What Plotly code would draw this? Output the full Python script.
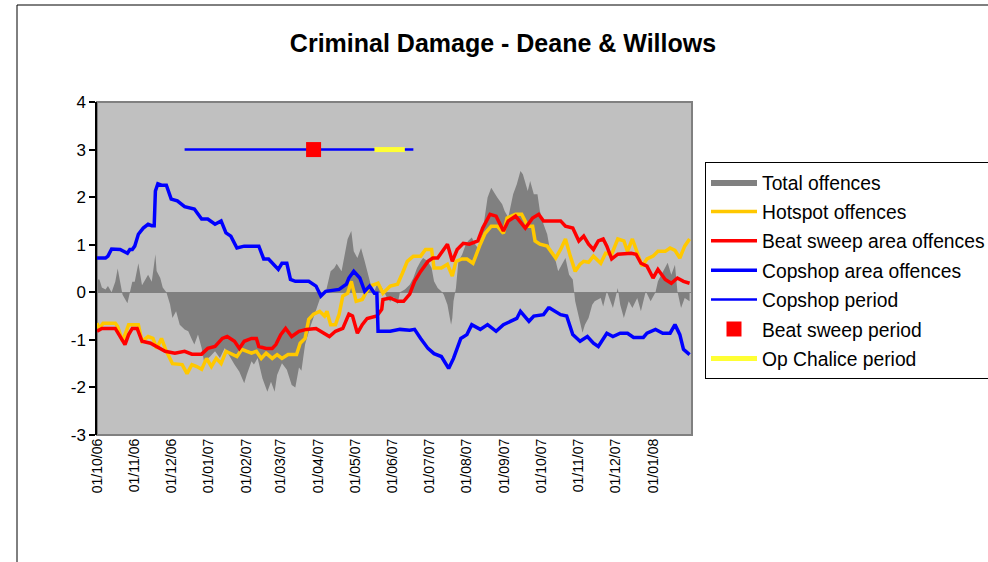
import plotly.graph_objects as go

FONT = "Liberation Sans, Arial, sans-serif"

# ---------------- data ----------------
total_dates = ["2006-10-01","2006-10-03","2006-10-05","2006-10-08","2006-10-10","2006-10-13","2006-10-16","2006-10-18",
    "2006-10-20","2006-10-22","2006-10-26","2006-10-28","2006-10-30","2006-11-01","2006-11-04","2006-11-07","2006-11-10",
    "2006-11-12","2006-11-15","2006-11-18","2006-11-19","2006-11-22","2006-11-24","2006-11-27","2006-11-30","2006-12-02",
    "2006-12-05","2006-12-08","2006-12-12","2006-12-15","2006-12-18","2006-12-20","2006-12-23","2006-12-26","2006-12-28",
    "2007-01-02","2007-01-06","2007-01-10","2007-01-14","2007-01-18","2007-01-22","2007-01-26","2007-01-30","2007-02-01",
    "2007-02-05","2007-02-07","2007-02-10","2007-02-14","2007-02-18","2007-02-21","2007-02-24","2007-02-26","2007-03-02",
    "2007-03-06","2007-03-10","2007-03-13","2007-03-16","2007-03-18","2007-03-21","2007-03-25","2007-03-30","2007-04-03",
    "2007-04-07","2007-04-11","2007-04-14","2007-04-16","2007-04-20","2007-04-22","2007-04-25","2007-04-28","2007-04-30",
    "2007-05-03","2007-05-06","2007-05-09","2007-05-11","2007-05-14","2007-05-17","2007-05-20","2007-05-24","2007-05-27",
    "2007-05-30","2007-06-02","2007-06-05","2007-06-07","2007-06-11","2007-06-15","2007-06-18","2007-06-21","2007-06-24",
    "2007-06-26","2007-06-30","2007-07-03","2007-07-05","2007-07-08","2007-07-11","2007-07-13","2007-07-16","2007-07-19",
    "2007-07-20","2007-07-21","2007-07-23","2007-07-25","2007-07-28","2007-07-31","2007-08-02","2007-08-05","2007-08-08",
    "2007-08-10","2007-08-14","2007-08-18","2007-08-21","2007-08-24","2007-08-26","2007-08-30","2007-09-01","2007-09-04",
    "2007-09-08","2007-09-11","2007-09-14","2007-09-16","2007-09-20","2007-09-22","2007-09-25","2007-09-28","2007-09-30",
    "2007-10-03","2007-10-06","2007-10-08","2007-10-13","2007-10-15","2007-10-19","2007-10-21","2007-10-24","2007-10-27",
    "2007-10-29","2007-11-01","2007-11-04","2007-11-06","2007-11-09","2007-11-12","2007-11-14","2007-11-19","2007-11-21",
    "2007-11-24","2007-11-27","2007-11-29","2007-12-03","2007-12-05","2007-12-08","2007-12-12","2007-12-15","2007-12-19",
    "2007-12-22","2007-12-26","2007-12-30","2008-01-03","2008-01-05","2008-01-11","2008-01-13","2008-01-16","2008-01-19",
    "2008-01-21","2008-01-24","2008-01-27","2008-01-31"]
total_values = [0.27,0.27,0.10,0.06,0.13,0.0,0.22,0.50,
    0.22,-0.05,-0.23,0.0,0.22,0.22,0.61,0.15,0.30,
    0.37,0.22,0.80,0.45,0.30,0.10,0.0,-0.25,-0.54,
    -0.40,-0.68,-0.78,-0.82,-0.99,-1.10,-0.89,-1.17,-1.46,
    -1.35,-1.24,-1.38,-1.17,-1.35,-1.52,-1.67,-1.91,-1.74,
    -1.45,-1.52,-1.38,-1.81,-2.09,-1.88,-2.09,-1.74,-1.49,
    -1.63,-1.95,-2.00,-1.58,-1.65,-1.10,-0.75,-0.40,-0.08,
    0.0,0.44,0.51,0.60,0.44,0.70,1.12,1.29,0.86,
    0.72,0.93,0.65,0.44,0.16,0.02,0.23,0.06,-0.10,
    -0.20,-0.10,-0.25,0.0,0.06,0.16,0.30,0.51,0.65,
    0.72,0.65,0.51,0.23,0.09,0.02,-0.05,-0.26,-0.68,
    -0.54,-0.19,0.09,0.65,0.79,1.00,1.08,1.15,1.00,
    0.93,1.29,1.99,2.20,2.06,1.99,1.85,1.71,1.57,
    2.06,2.27,2.55,2.48,2.13,2.34,2.06,2.06,1.71,
    1.43,1.22,0.93,0.65,0.44,0.65,0.72,0.37,0.27,
    -0.19,-0.54,-0.85,-0.68,-0.54,-0.26,-0.19,-0.12,-0.30,
    0.02,-0.19,-0.33,0.09,-0.26,-0.54,-0.19,-0.33,-0.12,
    -0.40,0.02,-0.19,0.0,0.23,0.51,0.62,0.37,0.58,
    0.02,-0.33,-0.12,-0.19]

hot_dates = ["2006-10-01","2006-10-03","2006-10-06","2006-10-16","2006-10-18","2006-10-22","2006-10-27","2006-11-04",
    "2006-11-07","2006-11-12","2006-11-16","2006-11-19","2006-11-23","2006-11-27","2006-12-02","2006-12-10","2006-12-14",
    "2006-12-18","2006-12-22","2006-12-26","2006-12-30","2007-01-03","2007-01-07","2007-01-11","2007-01-15","2007-01-19",
    "2007-01-24","2007-01-28","2007-02-05","2007-02-09","2007-02-13","2007-02-17","2007-02-22","2007-02-26","2007-03-02",
    "2007-03-07","2007-03-14","2007-03-17","2007-03-21","2007-03-24","2007-03-28","2007-04-02","2007-04-06","2007-04-08",
    "2007-04-11","2007-04-15","2007-04-18","2007-04-21","2007-04-25","2007-04-28","2007-05-02","2007-05-07","2007-05-13",
    "2007-05-20","2007-05-24","2007-05-30","2007-06-05","2007-06-09","2007-06-13","2007-06-18","2007-06-24","2007-06-28",
    "2007-07-03","2007-07-05","2007-07-11","2007-07-16","2007-07-20","2007-07-23","2007-07-28","2007-08-01","2007-08-06",
    "2007-08-12","2007-08-16","2007-08-21","2007-08-26","2007-08-31","2007-09-03","2007-09-10","2007-09-15","2007-09-20",
    "2007-09-24","2007-09-26","2007-09-30","2007-10-06","2007-10-08","2007-10-13","2007-10-17","2007-10-21","2007-10-25",
    "2007-10-29","2007-11-02","2007-11-05","2007-11-09","2007-11-13","2007-11-19","2007-11-23","2007-11-28","2007-12-03",
    "2007-12-08","2007-12-11","2007-12-15","2007-12-19","2007-12-23","2007-12-27","2008-01-01","2008-01-05","2008-01-11",
    "2008-01-15","2008-01-19","2008-01-23","2008-01-27","2008-01-31"]
hot_values = [-0.65,-0.76,-0.65,-0.65,-0.72,-1.03,-0.68,-0.68,
    -1.03,-0.93,-0.97,-1.18,-0.97,-1.24,-1.50,-1.52,-1.71,
    -1.52,-1.56,-1.62,-1.39,-1.56,-1.39,-1.50,-1.24,-1.28,
    -1.35,-1.20,-1.28,-1.24,-1.39,-1.28,-1.39,-1.31,-1.39,
    -1.31,-1.31,-1.07,-0.97,-0.57,-0.46,-0.40,-0.50,-0.40,
    -0.68,-0.68,-0.46,-0.08,-0.02,0.23,-0.19,-0.15,0.13,
    0.19,-0.02,0.13,0.17,0.40,0.65,0.76,0.76,0.90,
    0.90,0.51,0.51,0.59,0.34,0.65,0.70,0.70,0.61,
    1.01,1.24,1.39,1.39,1.24,1.56,1.64,1.64,1.39,
    1.39,1.08,1.01,0.97,0.90,0.72,0.90,1.12,0.76,
    0.44,0.59,0.65,0.63,0.76,0.61,0.82,0.80,1.12,
    1.08,0.86,1.12,0.82,0.55,0.70,0.76,0.86,0.86,
    0.93,0.88,0.72,0.97,1.12]

beat_dates = ["2006-10-01","2006-10-05","2006-10-16","2006-10-20","2006-10-24","2006-10-27","2006-10-30","2006-11-03",
    "2006-11-07","2006-11-14","2006-11-19","2006-11-26","2006-12-04","2006-12-12","2006-12-18","2006-12-26","2006-12-31",
    "2007-01-06","2007-01-12","2007-01-16","2007-01-22","2007-01-26","2007-01-30","2007-02-05","2007-02-09","2007-02-11",
    "2007-02-17","2007-02-22","2007-02-25","2007-03-01","2007-03-05","2007-03-10","2007-03-16","2007-03-22","2007-03-30",
    "2007-04-03","2007-04-10","2007-04-15","2007-04-21","2007-04-26","2007-04-29","2007-05-03","2007-05-07","2007-05-11",
    "2007-05-19","2007-05-23","2007-05-24","2007-05-30","2007-06-05","2007-06-10","2007-06-15","2007-06-19","2007-06-24",
    "2007-06-30","2007-07-04","2007-07-08","2007-07-12","2007-07-16","2007-07-20","2007-07-24","2007-07-29","2007-08-03",
    "2007-08-10","2007-08-14","2007-08-20","2007-08-25","2007-08-31","2007-09-04","2007-09-10","2007-09-14","2007-09-18",
    "2007-09-24","2007-09-29","2007-10-03","2007-10-17","2007-10-21","2007-10-27","2007-11-01","2007-11-05","2007-11-09",
    "2007-11-13","2007-11-17","2007-11-21","2007-11-24","2007-11-28","2007-12-03","2007-12-14","2007-12-18","2007-12-22",
    "2007-12-27","2008-01-01","2008-01-05","2008-01-11","2008-01-16","2008-01-21","2008-01-26","2008-01-31"]
beat_values = [-0.82,-0.76,-0.76,-0.93,-1.10,-0.89,-0.76,-0.76,
    -1.03,-1.07,-1.14,-1.24,-1.28,-1.24,-1.30,-1.30,-1.18,
    -1.14,-0.97,-0.93,-1.03,-1.18,-1.03,-0.97,-0.97,-1.14,
    -1.18,-1.18,-1.10,-0.89,-0.76,-0.93,-0.82,-0.78,-0.76,
    -0.82,-0.93,-0.82,-0.76,-0.46,-0.50,-0.86,-0.68,-0.55,
    -0.50,-0.36,-0.15,-0.12,-0.19,-0.19,-0.04,0.23,0.44,
    0.65,0.72,0.72,0.86,1.01,0.65,0.90,1.03,1.01,
    1.08,1.35,1.64,1.60,1.29,1.50,1.60,1.46,1.35,
    1.56,1.64,1.50,1.50,1.39,1.35,1.08,1.18,1.01,
    0.90,1.08,1.12,0.97,0.70,0.80,0.82,0.80,0.61,
    0.55,0.30,0.48,0.27,0.19,0.30,0.23,0.19]

cop_dates = ["2006-10-01","2006-10-08","2006-10-10","2006-10-13","2006-10-20","2006-10-26","2006-10-28","2006-10-30",
    "2006-11-01","2006-11-04","2006-11-08","2006-11-12","2006-11-15","2006-11-17","2006-11-18","2006-11-20","2006-11-23",
    "2006-11-27","2006-12-01","2006-12-06","2006-12-12","2006-12-20","2006-12-26","2006-12-31","2007-01-06","2007-01-11",
    "2007-01-15","2007-01-19","2007-01-24","2007-01-30","2007-02-11","2007-02-15","2007-02-19","2007-02-25","2007-02-27",
    "2007-03-02","2007-03-06","2007-03-09","2007-03-13","2007-03-24","2007-03-30","2007-04-03","2007-04-07","2007-04-18",
    "2007-04-24","2007-04-26","2007-04-30","2007-05-05","2007-05-09","2007-05-13","2007-05-17","2007-05-19","2007-05-20",
    "2007-05-30","2007-06-07","2007-06-15","2007-06-19","2007-06-24","2007-06-30","2007-07-05","2007-07-11","2007-07-17",
    "2007-07-21","2007-07-27","2007-08-01","2007-08-05","2007-08-12","2007-08-18","2007-08-25","2007-08-31","2007-09-06",
    "2007-09-11","2007-09-14","2007-09-21","2007-09-25","2007-10-03","2007-10-07","2007-10-08","2007-10-17","2007-10-22",
    "2007-10-27","2007-11-02","2007-11-08","2007-11-13","2007-11-17","2007-11-24","2007-11-29","2007-12-05","2007-12-11",
    "2007-12-16","2007-12-24","2007-12-27","2008-01-03","2008-01-09","2008-01-15","2008-01-19","2008-01-23","2008-01-26",
    "2008-01-31"]
cop_values = [0.72,0.72,0.76,0.91,0.90,0.82,0.90,0.90,
    0.97,1.22,1.35,1.43,1.40,1.40,2.13,2.28,2.25,
    2.25,1.96,1.92,1.80,1.75,1.54,1.54,1.43,1.50,
    1.25,1.18,0.93,0.97,0.97,0.70,0.70,0.55,0.48,
    0.61,0.61,0.27,0.23,0.23,0.13,-0.08,0.02,0.06,
    0.17,0.30,0.44,0.30,0.02,0.13,-0.02,-0.02,-0.82,
    -0.82,-0.78,-0.80,-0.78,-0.97,-1.18,-1.29,-1.35,-1.60,
    -1.39,-0.97,-0.89,-0.68,-0.78,-0.68,-0.82,-0.68,-0.61,
    -0.55,-0.40,-0.61,-0.50,-0.47,-0.33,-0.33,-0.47,-0.50,
    -0.89,-1.03,-0.93,-1.07,-1.14,-0.86,-0.93,-0.86,-0.86,
    -0.95,-0.95,-0.86,-0.78,-0.86,-0.86,-0.68,-0.89,-1.20,
    -1.31]

copshop_period_dates = ["2006-12-12", "2007-06-18"]
copshop_period_values = [3, 3]
beat_period_dates = ["2007-03-28"]
beat_period_values = [3]
chalice_dates = ["2007-05-17", "2007-06-11"]
chalice_values = [3, 3]

tick_dates = ["2006-10-01","2006-11-01","2006-12-01","2007-01-01","2007-02-01","2007-03-01","2007-04-01","2007-05-01",
    "2007-06-01","2007-07-01","2007-08-01","2007-09-01","2007-10-01","2007-11-01","2007-12-01","2008-01-01"]
tick_labels = ["01/10/06","01/11/06","01/12/06","01/01/07","01/02/07","01/03/07","01/04/07","01/05/07",
    "01/06/07","01/07/07","01/08/07","01/09/07","01/10/07","01/11/07","01/12/07","01/01/08"]
y_tick_values = [-3, -2, -1, 0, 1, 2, 3, 4]
y_tick_labels = ["-3", "-2", "-1", "0", "1", "2", "3", "4"]

# ---------------- figure ----------------
fig = go.Figure()
fig.add_trace(go.Scatter(x=total_dates, y=total_values, name="Total offences", mode="lines",
                         fill="tozeroy", fillcolor="#808080", line=dict(width=0, color="#808080"),
                         legendgroup="g1"))
fig.add_trace(go.Scatter(x=hot_dates, y=hot_values, name="Hotspot offences", mode="lines",
                         line=dict(color="#FFC800", width=3.5), legendgroup="g2"))
fig.add_trace(go.Scatter(x=beat_dates, y=beat_values, name="Beat sweep area offences", mode="lines",
                         line=dict(color="#FF0000", width=3.5), legendgroup="g3"))
fig.add_trace(go.Scatter(x=cop_dates, y=cop_values, name="Copshop area offences", mode="lines",
                         line=dict(color="#0000FF", width=3.5), legendgroup="g4"))
fig.add_trace(go.Scatter(x=copshop_period_dates, y=copshop_period_values, name="Copshop period", mode="lines",
                         line=dict(color="#0000FF", width=2.5), legendgroup="g5"))
fig.add_trace(go.Scatter(x=beat_period_dates, y=beat_period_values, name="Beat sweep period", mode="markers",
                         marker=dict(symbol="square", size=15, color="#FF0000"), legendgroup="g6"))
fig.add_trace(go.Scatter(x=chalice_dates, y=chalice_values, name="Op Chalice period", mode="lines",
                         line=dict(color="#FFFF33", width=5), legendgroup="g7"))

L, R, T, B = 97, 692, 102, 435
W, H = 988, 562
pw, ph = R - L, B - T

fig.update_layout(
    width=W, height=H,
    margin=dict(l=L, r=W - R, t=T, b=H - B, autoexpand=False),
    paper_bgcolor="white", plot_bgcolor="#C0C0C0",
    font=dict(family=FONT, color="black"),
    title=dict(text="<b>Criminal Damage - Deane & Willows</b>", xref="container", x=503 / W,
               y=1 - 43 / H, xanchor="center", yanchor="middle",
               font=dict(family=FONT, size=25, color="black")),
    showlegend=True,
    legend=dict(x=(705 - L) / pw, y=(B - 162) / ph, xanchor="left", yanchor="top",
                bgcolor="white", bordercolor="black", borderwidth=1,
                font=dict(family=FONT, size=19.3, color="black"),
                traceorder="grouped", tracegroupgap=1.3, itemwidth=46),
    xaxis=dict(type="date", range=["2006-10-01", "2008-02-02"], tickmode="array",
               tickvals=tick_dates, ticktext=tick_labels, tickangle=-90,
               tickfont=dict(family=FONT, size=14, color="black"),
               showgrid=False, zeroline=False, showline=False, ticks=""),
    yaxis=dict(range=[-3, 4], tickmode="array", tickvals=y_tick_values, ticktext=y_tick_labels,
               tickfont=dict(family=FONT, size=17, color="black"),
               showgrid=False, zeroline=True, zerolinecolor="#808080", zerolinewidth=1,
               showline=True, linecolor="black", linewidth=1.5,
               ticks="outside", ticklen=6, tickcolor="black", tickwidth=1.5),
    shapes=[
        dict(type="rect", xref="paper", yref="paper", x0=0, x1=1, y0=0, y1=1,
             line=dict(color="#808080", width=2), layer="below"),
        dict(type="line", xref="paper", yref="paper", x0=(17 - L) / pw, x1=(17 - L) / pw,
             y0=(B - 562) / ph, y1=(B - 5) / ph, line=dict(color="black", width=1)),
        dict(type="line", xref="paper", yref="paper", x0=(17 - L) / pw, x1=(990 - L) / pw,
             y0=(B - 5) / ph, y1=(B - 5) / ph, line=dict(color="black", width=1)),
    ],
)

fig.write_html("out.html", config={"displayModeBar": False},
               post_script="document.body.style.margin='0';")
